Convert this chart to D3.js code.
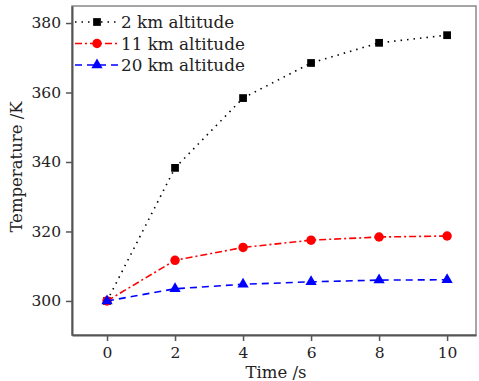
<!DOCTYPE html>
<html>
  <head>
    <meta charset="utf-8">
    <script src="https://d3js.org/d3.v7.min.js"></script>
    <style>
      body { margin: 0; background: #fff; }
      text { font-family: "DejaVu Serif", serif; fill: #222; }
    </style>
  </head>
  <body>
    <svg></svg>
    <script>
      // dados
      const tempos = [0, 2, 4, 6, 8, 10]
      const alt2km = [300, 338.3, 358.4, 368.5, 374.3, 376.5]
      const alt11km = [300, 311.7, 315.4, 317.5, 318.4, 318.7]
      const alt20km = [300, 303.5, 304.8, 305.5, 306.0, 306.1]
      const xTicks = [0, 2, 4, 6, 8, 10]
      const yTicks = [300, 320, 340, 360, 380]

      const series = [
        { nome: '2 km altitude', valores: alt2km, cor: '#000', dash: '1.5,5', marca: 'square' },
        { nome: '11 km altitude', valores: alt11km, cor: '#f00', dash: '7,3,2,3', marca: 'circle' },
        { nome: '20 km altitude', valores: alt20km, cor: '#00f', dash: '7,5', marca: 'triangle' }
      ]

      const W = 479, H = 381
      const m = { left: 72, right: 3, top: 6, bottom: 46 }

      const svg = d3.select('svg')
        .attr('width', W)
        .attr('height', H)

      const x = d3.scaleLinear().domain([-1.03, 10.85]).range([m.left, W - m.right])
      const y = d3.scaleLinear().domain([290.2, 384.9]).range([H - m.bottom, m.top])

      // moldura
      svg.append('rect')
        .attr('x', m.left).attr('y', m.top)
        .attr('width', W - m.right - m.left)
        .attr('height', H - m.bottom - m.top)
        .attr('fill', 'none')
        .attr('stroke', '#888')
        .attr('stroke-width', 1.5)

      const eixoX = svg.append('g')
        .attr('transform', `translate(0, ${H - m.bottom})`)
        .call(d3.axisBottom(x).tickValues(xTicks).tickSize(6).tickSizeOuter(0).tickPadding(6))
      const eixoY = svg.append('g')
        .attr('transform', `translate(${m.left}, 0)`)
        .call(d3.axisLeft(y).tickValues(yTicks).tickSize(6).tickSizeOuter(0).tickPadding(5))

      for (const e of [eixoX, eixoY]) {
        e.select('.domain').attr('stroke', '#555').attr('stroke-width', 2)
        e.selectAll('.tick line').attr('stroke', '#555').attr('stroke-width', 1.5)
        e.selectAll('.tick text')
          .style('font-family', '"DejaVu Serif", serif')
          .style('font-size', '15.5px')
          .attr('fill', '#222')
      }

      svg.append('text')
        .attr('x', x(4.97))
        .attr('y', 378)
        .attr('text-anchor', 'middle')
        .style('font-size', '16.5px')
        .text('Time /s')

      svg.append('text')
        .attr('transform', `translate(22, 167) rotate(-90)`)
        .attr('text-anchor', 'middle')
        .style('font-size', '16.5px')
        .text('Temperature /K')

      const linha = d3.line()
        .x((d, i) => x(tempos[i]))
        .y(d => y(d))

      const simbolos = {
        square: d3.symbol().type(d3.symbolSquare).size(60),
        circle: d3.symbol().type(d3.symbolCircle).size(70),
        triangle: d3.symbol().type(d3.symbolTriangle).size(55)
      }

      series.forEach(s => {
        svg.append('path')
          .datum(s.valores)
          .attr('d', linha)
          .attr('fill', 'none')
          .attr('stroke', s.cor)
          .attr('stroke-width', 1.6)
          .attr('stroke-dasharray', s.dash)

        svg.selectAll(null)
          .data(s.valores)
          .join('path')
            .attr('transform', (d, i) => `translate(${x(tempos[i])}, ${y(d)})`)
            .attr('d', simbolos[s.marca]())
            .attr('fill', s.cor)
      })

      // legenda
      const legenda = svg.append('g')
      series.forEach((s, i) => {
        const ly = 22 + i * 21.5
        legenda.append('line')
          .attr('x1', 75).attr('x2', 119)
          .attr('y1', ly).attr('y2', ly)
          .attr('stroke', s.cor)
          .attr('stroke-width', 1.6)
          .attr('stroke-dasharray', s.dash)
        legenda.append('path')
          .attr('transform', `translate(97, ${ly})`)
          .attr('d', simbolos[s.marca]())
          .attr('fill', s.cor)
        legenda.append('text')
          .attr('x', 121)
          .attr('y', ly + 6)
          .style('font-size', '16.8px')
          .text(s.nome)
      })
    </script>
  </body>
</html>
